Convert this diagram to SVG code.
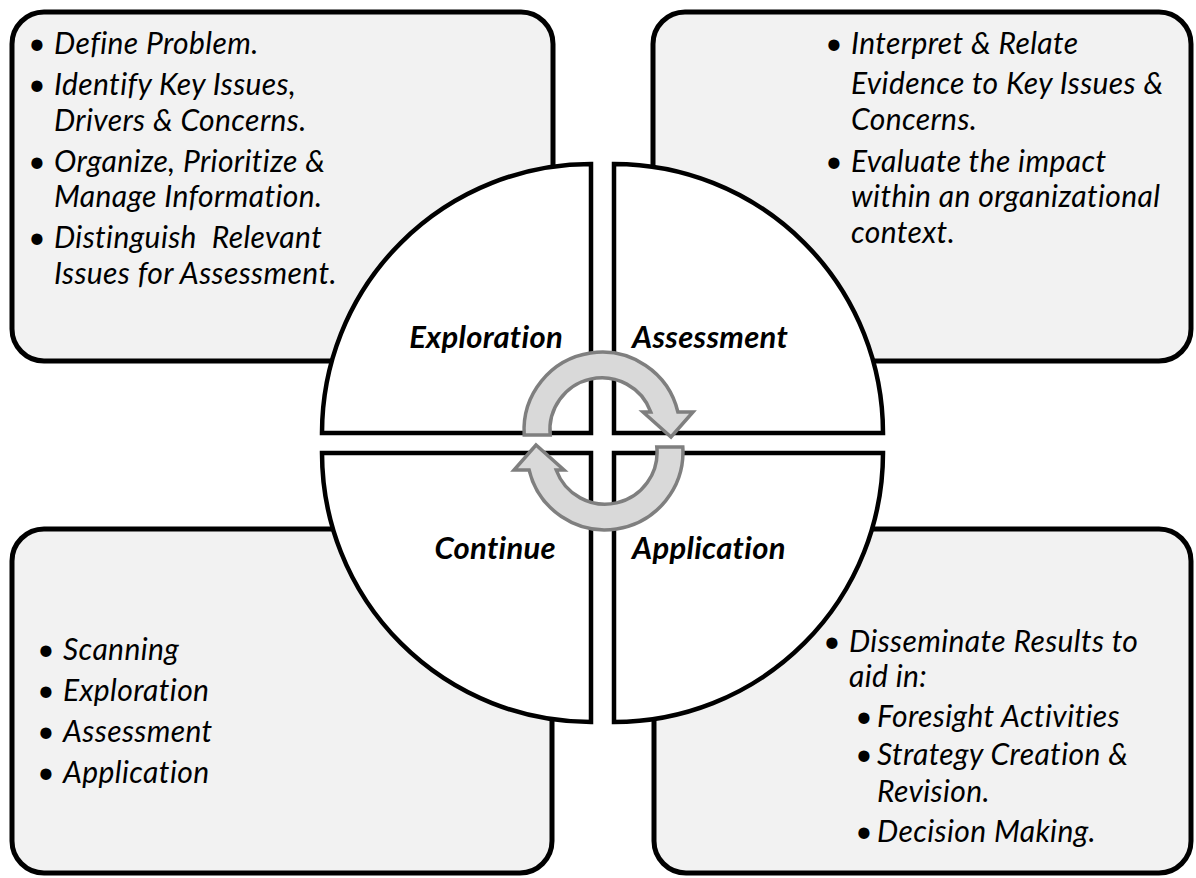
<svg xmlns="http://www.w3.org/2000/svg" width="1196" height="878" viewBox="0 0 1196 878">
<style>
.box{fill:#f2f2f2;stroke:#000;stroke-width:5}
.quad{fill:#fff;stroke:#000;stroke-width:4.5;stroke-linejoin:miter}
.t{font-family:Lato,"Open Sans","Liberation Sans",sans-serif;font-style:italic;font-size:30px;letter-spacing:0.4px;fill:#000}
.b{font-family:Lato,"Open Sans","Liberation Sans",sans-serif;font-style:italic;font-size:30px;fill:#000;text-anchor:middle}
.lbl{font-family:Lato,"Open Sans","Liberation Sans",sans-serif;font-style:italic;font-weight:bold;font-size:31px;letter-spacing:0.3px;fill:#000}
.arrow{fill:#d9d9d9;stroke:#7f7f7f;stroke-width:3.5;stroke-linejoin:miter}
</style>
<defs>
<path id="cyc" d="M 524.2 435 A 78 78 0 0 1 677.9 412 L 693 412 L 671 437 L 643 412 L 650.8 412 A 52 52 0 0 0 550.2 435 Z"/>
</defs>

<g id="box-exploration">
<rect class="box" x="12" y="12" width="541" height="349" rx="32"/>
<text class="b" x="37" y="54">•</text><text class="t" x="54" y="54">Define Problem.</text>
<text class="b" x="37" y="95">•</text><text class="t" x="54" y="95">Identify Key Issues,</text>
<text class="t" x="54" y="130.5">Drivers &amp; Concerns.</text>
<text class="b" x="37" y="171.5">•</text><text class="t" x="54" y="171.5">Organize, Prioritize &amp;</text>
<text class="t" x="54" y="207">Manage Information.</text>
<text class="b" x="37" y="248">•</text><text class="t" x="54" y="248" xml:space="preserve">Distinguish  Relevant</text>
<text class="t" x="54" y="283.5">Issues for Assessment.</text>
</g>

<g id="box-assessment">
<rect class="box" x="653" y="12" width="538" height="349" rx="32"/>
<text class="b" x="834" y="54">•</text><text class="t" x="851" y="54">Interpret &amp; Relate</text>
<text class="t" x="851" y="94">Evidence to Key Issues &amp;</text>
<text class="t" x="851" y="130">Concerns.</text>
<text class="b" x="834" y="171.5">•</text><text class="t" x="851" y="171.5">Evaluate the impact</text>
<text class="t" x="851" y="207">within an organizational</text>
<text class="t" x="851" y="242.5">context.</text>
</g>

<g id="box-continue">
<rect class="box" x="12" y="529" width="540" height="344" rx="32"/>
<text class="b" x="46" y="660">•</text><text class="t" x="63" y="660">Scanning</text>
<text class="b" x="46" y="701">•</text><text class="t" x="63" y="701">Exploration</text>
<text class="b" x="46" y="742">•</text><text class="t" x="63" y="742">Assessment</text>
<text class="b" x="46" y="783">•</text><text class="t" x="63" y="783">Application</text>
</g>

<g id="box-application">
<rect class="box" x="654" y="529" width="537" height="344" rx="32"/>
<text class="b" x="832" y="652">•</text><text class="t" x="849" y="652">Disseminate Results to</text>
<text class="t" x="849" y="687">aid in:</text>
<text class="b" x="864" y="727">•</text><text class="t" x="877" y="727">Foresight Activities</text>
<text class="b" x="864" y="765">•</text><text class="t" x="877" y="765">Strategy Creation &amp;</text>
<text class="t" x="877" y="802">Revision.</text>
<text class="b" x="864" y="842">•</text><text class="t" x="877" y="842">Decision Making.</text>
</g>

<g id="quad-exploration">
<path class="quad" d="M 591 433 L 322 433 A 269 269 0 0 1 591 164 Z"/>
<text class="lbl" x="563" y="348" text-anchor="end">Exploration</text>
</g>
<g id="quad-assessment">
<path class="quad" d="M 614 433 L 614 164 A 269 269 0 0 1 883 433 Z"/>
<text class="lbl" x="632" y="348">Assessment</text>
</g>
<g id="quad-continue">
<path class="quad" d="M 591 453 L 322 453 A 269 269 0 0 0 591 722 Z"/>
<text class="lbl" x="556" y="559" text-anchor="end">Continue</text>
</g>
<g id="quad-application">
<path class="quad" d="M 614 453 L 614 722 A 269 269 0 0 0 883 453 Z"/>
<text class="lbl" x="632" y="559">Application</text>
</g>

<g id="connectors">
<use href="#cyc" class="arrow"/>
<use href="#cyc" class="arrow" transform="rotate(180 603.5 441)"/>
</g>
</svg>
